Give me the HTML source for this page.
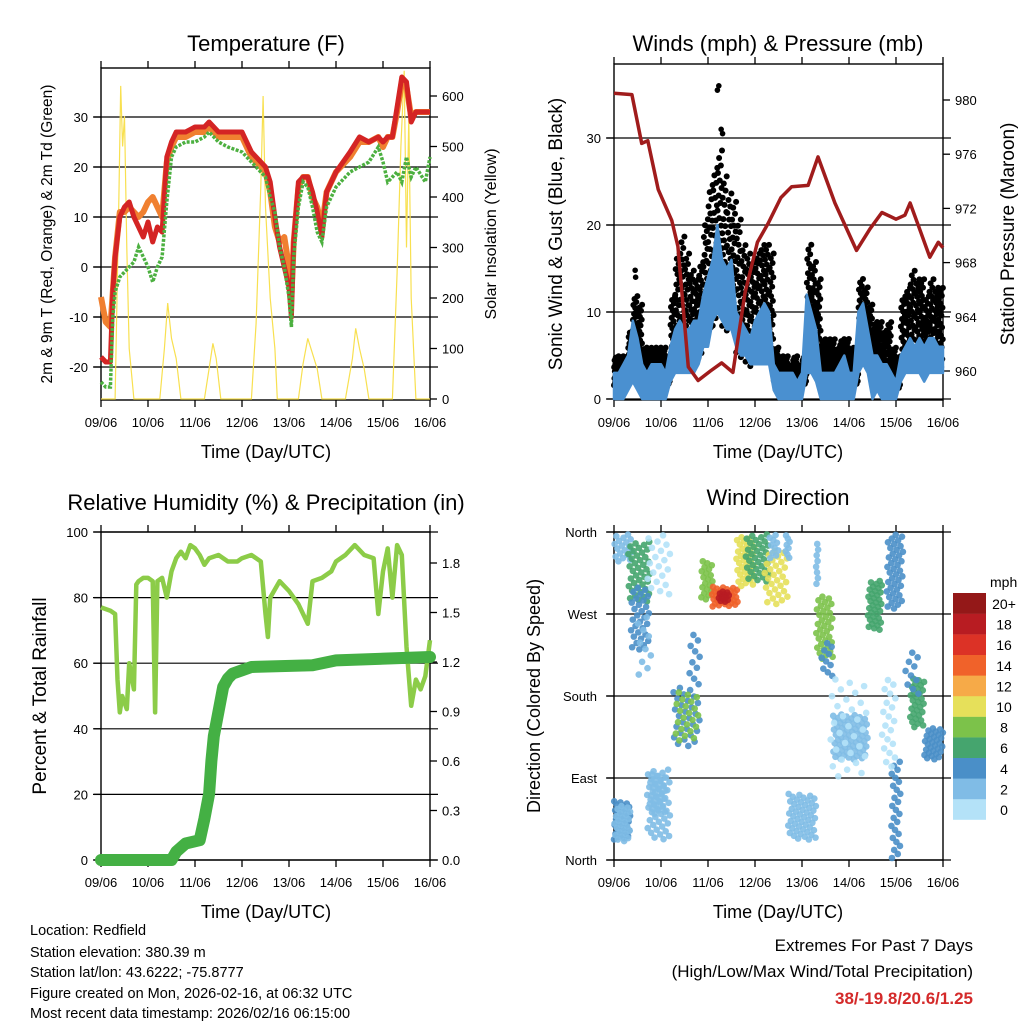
<!DOCTYPE html>
<html><head><meta charset="utf-8">
<style>
html,body{margin:0;padding:0;background:#fff;}
svg{display:block;font-family:"Liberation Sans",Arial,sans-serif;}
</style></head>
<body>
<svg id="chart" width="1024" height="1024" viewBox="0 0 1024 1024" xmlns="http://www.w3.org/2000/svg">
<g font-size="22" text-anchor="middle">
<text x="266" y="51">Temperature (F)</text>
<text x="778" y="51">Winds (mph) &amp; Pressure (mb)</text>
<text x="266" y="510">Relative Humidity (%) &amp; Precipitation (in)</text>
<text x="778" y="505">Wind Direction</text>
</g>
<g font-size="18" text-anchor="middle">
<text x="266" y="458">Time (Day/UTC)</text>
<text x="778" y="458">Time (Day/UTC)</text>
<text x="266" y="918">Time (Day/UTC)</text>
<text x="778" y="918">Time (Day/UTC)</text>
<text font-size="15.5" transform="translate(52,234) rotate(-90)">2m &amp; 9m T (Red, Orange) &amp; 2m Td (Green)</text>
<text font-size="16" transform="translate(496,234) rotate(-90)">Solar Insolation (Yellow)</text>
<text font-size="19" transform="translate(562,234) rotate(-90)">Sonic Wind &amp; Gust (Blue, Black)</text>
<text font-size="19" transform="translate(1014,234) rotate(-90)">Station Pressure (Maroon)</text>
<text font-size="19" transform="translate(46,696) rotate(-90)">Percent &amp; Total Rainfall</text>
<text font-size="18" transform="translate(540,696) rotate(-90)">Direction (Colored By Speed)</text>
</g>
<g font-size="14.5">
<text x="30" y="935">Location: Redfield</text>
<text x="30" y="957">Station elevation: 380.39 m</text>
<text x="30" y="977">Station lat/lon: 43.6222; -75.8777</text>
<text x="30" y="998">Figure created on Mon, 2026-02-16, at 06:32 UTC</text>
<text x="30" y="1018">Most recent data timestamp: 2026/02/16 06:15:00</text>
</g>
<g text-anchor="end">
<text x="973" y="951" font-size="17">Extremes For Past 7 Days</text>
<text x="973" y="977" font-size="17">(High/Low/Max Wind/Total Precipitation)</text>
<text x="973" y="1004" font-size="17" font-weight="bold" fill="#d42a2a">38/-19.8/20.6/1.25</text>
</g>
</svg>
<script>
// ---------- DATA ----------
const dayLabels=["09/06","10/06","11/06","12/06","13/06","14/06","15/06","16/06"];
const tT=[0,0.1,0.2,0.25,0.3,0.4,0.5,0.6,0.7,0.8,0.9,1.0,1.1,1.2,1.3,1.4,1.5,1.6,1.8,2.0,2.2,2.3,2.5,2.7,3.0,3.2,3.4,3.5,3.6,3.7,3.8,3.9,4.0,4.05,4.1,4.2,4.3,4.4,4.5,4.6,4.7,4.8,5.0,5.3,5.5,5.7,5.9,6.0,6.1,6.2,6.3,6.4,6.5,6.6,6.7,6.9,7.0];
const temp2m=[-18,-19,-19,-5,2,10,12,13,10,8,6,9,5,8,7,22,25,27,27,28,28,29,27,27,27,23,21,20,17,10,4,0,-4,-10,5,17,18,18,15,11,6,15,19,23,26,25,26,25,26,26,32,38,37,29,31,31,31];
const temp9m=[-6,-11,-12,-5,2,11,11,12,11,10,11,13,14,12,10,21,24,26,26,27,27,28,26,26,26,22,20,19,15,8,5,6,0,-6,5,16,18,18,14,12,8,15,19,22,25,25,26,24,26,26,31,37,36,30,31,31,31];
const dewpt=[-23,-24,-24,-10,-5,-2,-1,0,1,4,2,0,-3,0,2,13,22,24,25,25,26,27,25,24,23,21,19,18,14,11,4,0,-6,-12,2,12,17,16,12,7,5,12,16,19,20,21,24,21,17,18,19,17,22,18,20,17,22];
const solarT=[0,0.3,0.38,0.42,0.46,0.5,0.55,0.6,0.7,1.25,1.35,1.42,1.5,1.6,1.7,2.2,2.3,2.38,2.45,2.55,3.2,3.3,3.4,3.45,3.5,3.6,3.7,3.75,4.2,4.3,4.4,4.5,4.6,4.7,5.2,5.35,5.42,5.5,5.6,5.7,6.2,6.3,6.38,6.45,6.5,6.55,6.6,6.7,7.0];
const solarW=[0,0,400,620,500,560,300,100,0,0,100,190,120,80,0,0,60,110,80,0,0,150,420,600,380,200,100,0,0,70,120,90,60,0,0,80,140,100,60,0,0,250,500,650,300,560,200,0,0];
const tW=[0,0.1,0.2,0.3,0.4,0.5,0.6,0.7,0.8,0.9,1.0,1.1,1.2,1.3,1.4,1.5,1.6,1.7,1.8,1.9,2.0,2.1,2.2,2.3,2.4,2.5,2.6,2.7,2.8,2.9,3.0,3.1,3.2,3.3,3.4,3.5,3.6,3.7,3.8,3.9,4.0,4.1,4.2,4.3,4.4,4.5,4.6,4.7,4.8,4.9,5.0,5.1,5.2,5.3,5.4,5.5,5.6,5.7,5.8,5.9,6.0,6.1,6.2,6.3,6.4,6.5,6.6,6.7,6.8,6.9,7.0];
const windLo=[0,0,0,1,2,1,0,0,0,0,0,0,2,3,3,3,3,3,4,6,6,9,10,9,8,8,6,5,5,4,4,4,4,4,1,0,0,0,0,0,0,3,3,2,0,0,0,0,0,0,0,0,3,4,3,0,1,0,0,0,0,2,3,3,3,3,2,3,3,3,3];
const windHi=[3,3,4,5,9,7,4,3,4,4,4,3,6,8,9,8,8,9,9,12,14,16,20,16,15,16,10,9,8,7,9,10,11,10,4,3,3,3,3,2,3,12,10,8,3,3,3,3,4,5,3,3,10,11,8,5,5,4,4,3,2,5,6,7,6,7,6,7,7,6,6];
const gust=[5,5,5,8,12,11,6,6,6,6,6,5,12,17,19,17,15,14,16,21,25,27,29,26,24,23,21,18,17,16,17,18,18,17,6,5,5,4,5,4,5,18,16,14,7,7,7,6,7,7,6,5,14,13,11,9,9,8,9,6,5,12,13,15,14,14,12,14,13,13,12];
const gustOutT=[2.2,2.23,2.28,2.31,0.45,0.46];
const gustOutV=[35.5,36,31,30.5,14.8,14];
const presT=[0,0.38,0.59,0.72,0.94,1.23,1.36,1.58,1.79,2.05,2.29,2.53,2.79,3.05,3.28,3.55,3.78,4.13,4.34,4.7,5.16,5.45,5.7,6.0,6.19,6.3,6.5,6.72,6.9,7.0];
const pressure=[980.5,980.4,976.8,977,973.4,971.1,969.2,960.3,959.3,960,960.6,959.9,965.8,969.5,970.9,972.8,973.6,973.7,975.8,972.4,968.9,970.5,971.7,971.2,971.5,972.4,970.5,968.4,969.5,969.1];
const rhT=[0,0.2,0.3,0.35,0.4,0.45,0.55,0.6,0.7,0.75,0.8,0.9,1.0,1.1,1.15,1.2,1.3,1.4,1.5,1.6,1.7,1.8,1.9,2.0,2.1,2.2,2.3,2.5,2.7,2.9,3.0,3.2,3.4,3.5,3.55,3.6,3.8,4.0,4.2,4.4,4.5,4.7,4.9,5.0,5.2,5.4,5.6,5.8,5.9,6.0,6.1,6.2,6.3,6.4,6.5,6.6,6.7,6.8,6.9,7.0];
const rh=[77,76,75,55,45,50,46,60,52,84,85,86,86,85,45,85,86,80,88,92,94,92,96,95,93,90,92,93,91,91,92,93,91,75,68,80,85,82,78,72,85,86,88,91,93,96,93,92,75,88,95,80,96,93,65,47,55,52,56,67];
const precT=[0,1.5,1.6,1.8,2.1,2.2,2.3,2.35,2.4,2.5,2.6,2.7,2.8,3.0,3.2,4.5,5.0,7.0];
const precip=[0,0,0.05,0.1,0.12,0.25,0.4,0.6,0.75,0.9,1.05,1.1,1.13,1.15,1.17,1.18,1.21,1.23];
// wind direction clusters: tStart,tEnd,dirLow,dirHigh,speed,count
const dirClusters=[
[0,0.35,22,65,3,35],[0,0.35,20,60,2,25],[0,0.4,327,358,1,18],[0.3,0.77,283,350,6,40],[0.35,0.75,230,300,4,30],[0.5,0.8,200,270,2,10],
[0.7,1.2,22,100,1,45],[0.75,1.1,50,95,2,25],[0.7,1.2,290,358,0,20],[1.26,1.83,124,190,4,28],[1.3,1.8,130,185,7,22],[1.6,1.85,190,250,4,10],
[1.85,2.1,285,329,7,20],[2.08,2.64,278,300,14,35],[2.2,2.45,283,295,18,12],[2.6,3.0,300,355,10,35],[2.8,3.3,305,358,6,35],[3.2,3.7,280,340,10,30],
[3.3,3.5,330,358,2,10],[3.7,4.3,22,73,2,50],[4.3,4.66,220,290,8,35],[4.4,4.65,200,240,4,10],[4.66,5.4,110,160,2,70],[4.6,5.4,90,200,0,30],
[5.4,5.7,252,307,6,35],[5.8,6.15,275,358,4,40],[5.9,6.1,0,110,3,25],[5.7,6.0,100,200,0,20],[6.3,6.6,145,200,6,30],[6.2,6.5,180,230,4,10],
[6.6,7.0,110,145,4,30],[4.3,4.35,300,350,1,8],[3.65,3.75,330,358,1,8]];
const speedColors=["#b4e2f8","#80bce6","#4a8fc8","#45a56e","#7cc24a","#e6e05a","#f6aa48","#f0622a","#dc3226","#b81c22","#941818"];
const speedLabels=["0","2","4","6","8","10","12","14","16","18","20+"];
const tempTicks=[-20,-10,0,10,20,30];
const solarTicks=[0,100,200,300,400,500,600];
const windTicks=[0,10,20,30];
const presTicks=[960,964,968,972,976,980];
const rhTicks=[0,20,40,60,80,100];
const precTicks=[0,0.3,0.6,0.9,1.2,1.5,1.8];
const dirLabels=["North","East","South","West","North"];

// ---------- DRAW ----------
const svg=document.getElementById('chart');
const NS="http://www.w3.org/2000/svg";
function mk(tag,attrs,parent){const e=document.createElementNS(NS,tag);for(const k in attrs)e.setAttribute(k,attrs[k]);(parent||svg).appendChild(e);return e;}
function lin(d0,d1,r0,r1){return v=>r0+(v-d0)*(r1-r0)/(d1-d0);}
function pathOf(xs,ys,fx,fy){return xs.map((t,i)=>(i?'L':'M')+fx(t).toFixed(1)+','+fy(ys[i]).toFixed(1)).join('');}

function frame(name,x0,y0,x1,y1,fx,leftTicks,fyL,leftFmt,rightTicks,fyR,rightFmt,grid){
  const g=mk('g',{});
  
  
  if(grid) leftTicks.forEach(v=>{const l=mk('line',{x1:x0-8,x2:x1+8,y1:fyL(v),y2:fyL(v),stroke:'#000','stroke-width':1.2},g);});
  dayLabels.forEach((d,i)=>{const x=fx(i);
    mk('line',{x1:x,x2:x,y1:y1,y2:y1+7,stroke:'#000','stroke-width':1.3},g);
    mk('line',{x1:x,x2:x,y1:y0,y2:y0-7,stroke:'#000','stroke-width':1.3},g);
    const t=mk('text',{x:x,y:y1+27,'font-size':13,'text-anchor':'middle'},g);t.textContent=d;
    });
  leftTicks.forEach(v=>{const y=fyL(v);
    mk('line',{x1:x0-7,x2:x0,y1:y,y2:y,stroke:'#000','stroke-width':1.3},g);
    if(leftFmt){const t=mk('text',{x:x0-13,y:y+5,'font-size':13,'text-anchor':'end'},g);t.textContent=leftFmt(v);
    }});
  if(rightTicks) rightTicks.forEach(v=>{const y=fyR(v);
    mk('line',{x1:x1,x2:x1+7,y1:y,y2:y,stroke:'#000','stroke-width':1.3},g);
    const t=mk('text',{x:x1+12,y:y+5,'font-size':13},g);t.textContent=rightFmt(v);
    });
  const r=mk('rect',{x:x0,y:y0,width:x1-x0,height:y1-y0,fill:'none',stroke:'#000','stroke-width':1.4},g);
  
  return g;
}

// Panel 1: temperature
(function(){
  const x0=101,x1=430,y0=68,y1=400;
  const fx=lin(0,7,x0,x1), fy=lin(0,30,267,117), fs=lin(0,600,399,96);
  frame('temperature',x0,y0,x1,y1,fx,tempTicks,fy,v=>v,solarTicks,fs,v=>v,true);
  const s=mk('path',{d:pathOf(solarT,solarW,fx,fs),fill:'none',stroke:'#f8e050','stroke-width':1.2});
  
  const o=mk('path',{d:pathOf(tT,temp9m,fx,fy),fill:'none',stroke:'#f08030','stroke-width':6,'stroke-linejoin':'round'});
  
  const r=mk('path',{d:pathOf(tT,temp2m,fx,fy),fill:'none',stroke:'#d42424','stroke-width':5,'stroke-linejoin':'round'});
  
  const gr=mk('path',{d:pathOf(tT,dewpt,fx,fy),fill:'none',stroke:'#4cb040','stroke-width':3.5,'stroke-dasharray':'3 1.5'});
  
})();

// Panel 2: winds
(function(){
  const x0=614,x1=943,y0=64,y1=400;
  const fx=lin(0,7,x0,x1), fy=lin(0,30,399,138), fp=lin(960,980,371,100);
  frame('winds',x0,y0,x1,y1,fx,windTicks,fy,v=>v,presTicks,fp,v=>v,true);
  const g=mk('g',{});
  
  const N=22, phi=0.6180339887;
  tW.forEach((t,i)=>{
    if(t>=7) return;
    const lo=windHi[i]*0.5, hi=gust[i];
    for(let k=0;k<N;k++){
      const u=(k+0.5)/N, w=(k*phi)%1;
      const c=mk('circle',{cx:fx(t+w*0.1),cy:fy(lo+(hi-lo)*u),r:3,fill:'#000'},g);
      
    }
  });
  gustOutT.forEach((t,i)=>{
    const c=mk('circle',{cx:fx(t),cy:fy(gustOutV[i]),r:2.8,fill:'#000'},g);
    
  });
  let d=pathOf(tW,windHi,fx,fy);
  for(let i=tW.length-1;i>=0;i--) d+='L'+fx(tW[i]).toFixed(1)+','+fy(windLo[i]).toFixed(1);
  const b=mk('path',{d:d+'Z',fill:'#4a90d0',stroke:'#4a90d0','stroke-width':2.5,'stroke-linejoin':'round'});
  
  const p=mk('path',{d:pathOf(presT,pressure,fx,fp),fill:'none',stroke:'#a01c1c','stroke-width':3.5,'stroke-linejoin':'round'});
  
})();

// Panel 3: RH & precip
(function(){
  const x0=101,x1=430,y0=532,y1=860;
  const fx=lin(0,7,x0,x1), fy=lin(0,100,860,532), fp=lin(0,1.8,860,563);
  frame('humidity',x0,y0,x1,y1,fx,rhTicks,fy,v=>v,precTicks,fp,v=>v.toFixed(1),true);
  const h=mk('path',{d:pathOf(rhT,rh,fx,fy),fill:'none',stroke:'#8ccc48','stroke-width':4.5,'stroke-linejoin':'round'});
  
  const p=mk('path',{d:pathOf(precT,precip,fx,fp),fill:'none',stroke:'#44b044','stroke-width':12,'stroke-linejoin':'round','stroke-linecap':'round'});
  
})();

// Panel 4: wind direction
(function(){
  const x0=614,x1=943,y0=532,y1=860;
  const fx=lin(0,7,x0,x1), fy=lin(0,360,860,532);
  const dirTicks=[0,90,180,270,360];
  frame('direction',x0,y0,x1,y1,fx,dirTicks,fy,null,null,null,null,true);
  dirTicks.forEach((v,i)=>{const t=mk('text',{x:x0-17,y:fy(v)+5,'font-size':13,'text-anchor':'end'});t.textContent=dirLabels[i];
    });
  const g=mk('g',{});
  
  const phi=0.6180339887;
  dirClusters.forEach((c,ci)=>{
    const [ta,tb,da,db,sp,n]=c;
    const col=speedColors[Math.min(10,Math.round(sp/2))];
    for(let k=0;k<n;k++){
      const u=(k+0.5)/n, w=((k+ci)*phi)%1;
      const pt=mk('circle',{cx:fx(ta+(tb-ta)*w),cy:fy(da+(db-da)*u),r:3.3,fill:col,'fill-opacity':0.9},g);
      
    }
  });
  const cb=mk('g',{});
  
  const t=mk('text',{x:990,y:587,'font-size':14},cb);t.textContent='mph';
  
  speedColors.forEach((c,i)=>{
    const yy=799-i*20.6;
    const r=mk('rect',{x:953,y:yy,width:33,height:20.8,fill:c},cb);
    
    const l=mk('text',{x:1004,y:yy+16,'font-size':14,'text-anchor':'middle'},cb);l.textContent=speedLabels[i];
    
  });
})();
</script>
</body></html>
